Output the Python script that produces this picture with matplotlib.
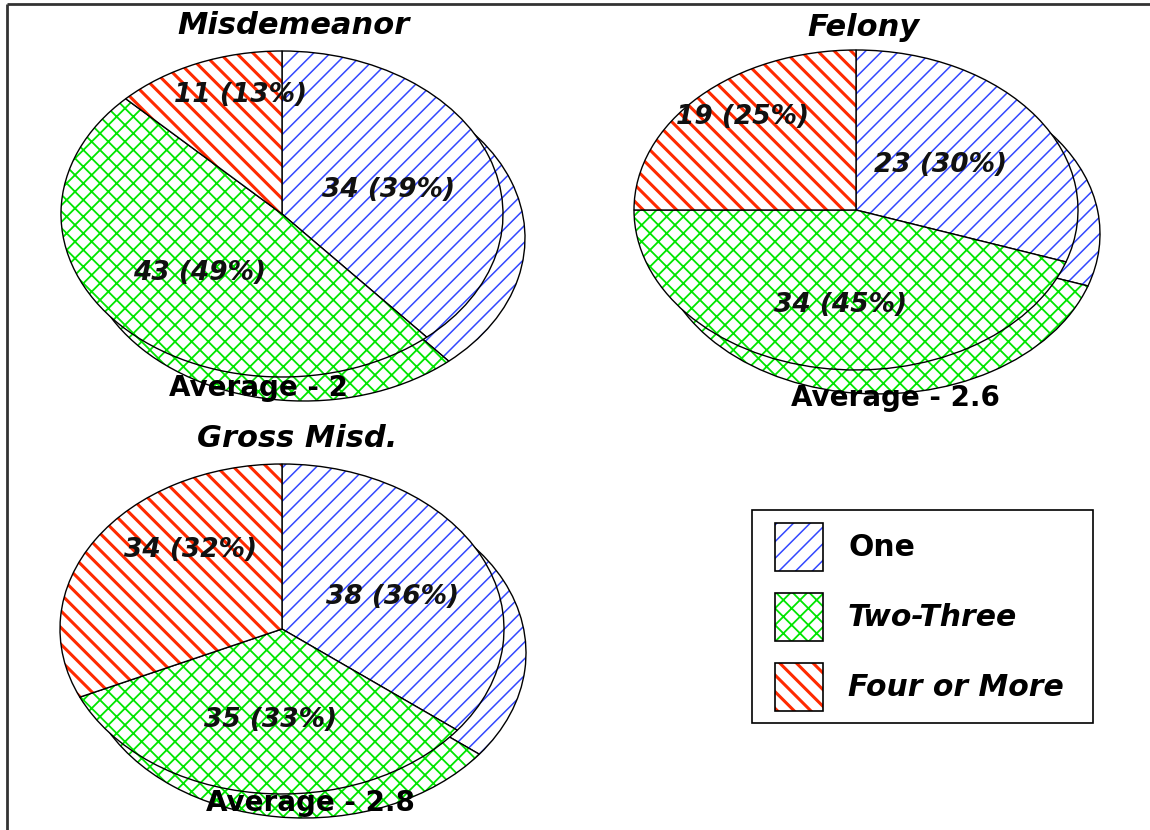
import matplotlib
matplotlib.use("Agg")
import matplotlib.pyplot as plt
from matplotlib.patches import Wedge, Rectangle
from matplotlib.transforms import Affine2D

# data
categories = ["One", "Two-Three", "Four or More"]
pie_titles = ["Misdemeanor", "Felony", "Gross Misd."]
misdemeanor = [34, 43, 11]
felony = [23, 34, 19]
gross_misd = [38, 35, 34]
averages = ["2", "2.6", "2.8"]

# styles per category: hatch colour, hatch, hatch width
hatch_colors = ["#3348ff", "#00e600", "#ff2a00"]
hatches = ["//", "xx", "\\\\"]
hatch_widths = [1.1, 1.3, 2.2]

# layout in pixels (y grows downwards)
W, H = 1150, 830
DPI = 100
pies = [
    dict(c=(282, 214), r=(221, 163), title=(293, 26), avg=(258, 388),
         labels=[(388, 190), (200, 273), (240, 95)]),
    dict(c=(856, 210), r=(222, 160), title=(863, 28), avg=(895, 398),
         labels=[(940, 165), (840, 305), (743, 117)]),
    dict(c=(282, 629), r=(222, 165), title=(297, 438), avg=(310, 803),
         labels=[(392, 597), (270, 720), (190, 550)]),
]
depth = (22, 24)

FONT = "DejaVu Sans"


def draw_wedge(ax, tr, t1, t2, k):
    w = Wedge((0, 0), 1, t1, t2, transform=tr, facecolor="white",
              edgecolor=hatch_colors[k], hatch=hatches[k], linewidth=0)
    if hasattr(w, "set_hatch_linewidth"):
        w.set_hatch_linewidth(hatch_widths[k])
    ax.add_patch(w)
    ax.add_patch(Wedge((0, 0), 1, t1, t2, transform=tr, fill=False,
                       edgecolor="black", linewidth=1.0))


def draw_pie(ax, values, p):
    total = float(sum(values))
    cx, cy = p["c"]
    rx, ry = p["r"]
    for dx, dy in [depth, (0, 0)]:
        tr = Affine2D().scale(rx, -ry).translate(cx + dx, cy + dy) + ax.transData
        start = 0.0
        for k, v in enumerate(values):
            end = start + v / total
            draw_wedge(ax, tr, 90 - end * 360, 90 - start * 360, k)
            start = end
    for k, v in enumerate(values):
        pct = int(100 * v / total + 0.5)
        x, y = p["labels"][k]
        ax.text(x, y, f"{v} ({pct}%)", ha="center", va="center",
                fontsize=19, fontweight="bold", fontstyle="italic",
                family=FONT, color="#111111")


fig = plt.figure(figsize=(W / DPI, H / DPI), dpi=DPI)
ax = fig.add_axes([0, 0, 1, 1])
ax.set_xlim(0, W)
ax.set_ylim(H, 0)
ax.axis("off")

for values, title, avg, p in zip([misdemeanor, felony, gross_misd],
                                 pie_titles, averages, pies):
    draw_pie(ax, values, p)
    ax.text(*p["title"], title, ha="center", va="center", fontsize=22,
            fontweight="bold", fontstyle="italic", family=FONT)
    ax.text(*p["avg"], f"Average - {avg}", ha="center", va="center",
            fontsize=20, fontweight="bold", family=FONT)

# legend box
ax.add_patch(Rectangle((752, 510), 341, 213, fill=False, edgecolor="black",
                       linewidth=1.2))
for k, name in enumerate(categories):
    y0 = 523 + k * 70
    sw = Rectangle((775, y0), 48, 48, facecolor="white",
                   edgecolor=hatch_colors[k], hatch=hatches[k], linewidth=0)
    if hasattr(sw, "set_hatch_linewidth"):
        sw.set_hatch_linewidth(hatch_widths[k])
    ax.add_patch(sw)
    ax.add_patch(Rectangle((775, y0), 48, 48, fill=False, edgecolor="black",
                           linewidth=1.2))
    ax.text(848, y0 + 24, name, ha="left", va="center", fontsize=21.5,
            fontweight="bold", fontstyle="normal" if k == 0 else "italic",
            family=FONT)

# frame lines (top and left)
ax.plot([7, W], [4, 4], color="#333333", linewidth=2.0, solid_capstyle="butt")
ax.plot([7, 7], [4, H], color="#333333", linewidth=2.0, solid_capstyle="butt")

fig.savefig("out.png", dpi=DPI)
